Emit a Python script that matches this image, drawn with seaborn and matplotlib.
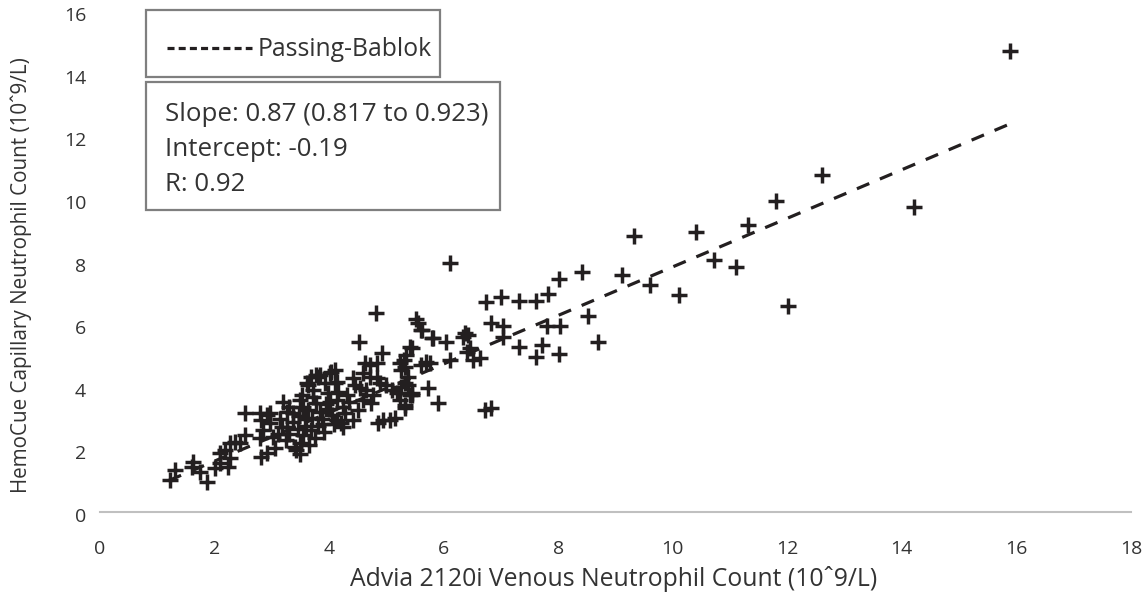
import matplotlib
matplotlib.use("Agg")
import matplotlib.pyplot as plt
from matplotlib.patches import Rectangle
from matplotlib.lines import Line2D
import seaborn as sns
import pandas as pd

# ---- data ----
venous = [
    1.22, 1.31, 1.60, 1.63, 1.75, 1.86, 2.01, 2.09, 2.24, 2.09, 2.18, 2.27, 2.36, 2.44, 2.53, 2.27,
    2.53, 2.79, 2.91, 2.82, 2.79, 2.82, 2.91, 3.05, 3.02, 2.97, 2.85, 2.97,
    3.20, 3.26, 3.17, 3.26, 3.37, 3.37, 3.49, 3.52, 3.64, 3.78, 3.84, 3.72, 3.78, 3.64, 3.70, 3.40,
    3.49, 3.43, 3.50, 3.10, 3.15, 3.30, 3.45, 3.55, 3.60, 3.68, 3.75, 3.80, 3.88, 3.92, 3.58, 3.48,
    3.30, 3.85, 3.95, 3.65, 3.25, 3.90, 3.55, 3.62, 3.69, 3.81, 3.93, 3.72, 3.98,
    4.01, 4.10, 4.04, 4.13, 4.01, 4.10, 4.16, 4.13, 4.31, 4.25, 4.13, 4.28, 4.42, 4.25, 4.42, 4.45,
    4.54, 4.65, 4.77, 4.60, 4.74, 4.62, 4.71, 4.60, 4.71, 4.83, 4.89, 5.00, 4.53, 4.92, 4.83, 4.82,
    4.94, 4.05, 4.08, 4.35, 4.50, 4.20, 4.00, 4.85,
    5.06, 5.15, 5.09, 5.18, 5.24, 5.24, 5.26, 5.41, 5.56, 5.61, 5.82, 5.70, 5.73, 5.90, 5.32, 5.41,
    5.38, 5.26, 5.44, 5.51, 5.63, 6.04, 5.61, 5.32, 5.32, 5.44, 5.32, 5.80, 5.76, 5.44, 5.35, 5.30,
    5.38,
    6.12, 6.34, 6.43, 6.40, 6.52, 6.63, 6.11, 6.72, 6.83, 6.74, 7.01, 6.82, 7.03, 7.04, 6.46, 6.37,
    7.32, 7.61, 7.82, 8.02, 8.42, 7.81, 8.03, 8.52, 7.32, 7.72, 7.62, 8.02, 8.70, 9.12, 9.32, 9.61,
    10.11, 10.41, 10.72, 11.11, 11.31, 11.81, 12.01, 12.60, 14.21, 15.89,
]
capillary = [
    1.12, 1.44, 1.54, 1.70, 1.38, 1.06, 1.49, 1.65, 1.54, 1.97, 2.08, 2.29, 2.34, 2.29, 2.56, 1.81,
    3.25, 3.25, 3.19, 3.04, 2.45, 1.86, 1.97, 2.13, 2.50, 2.93, 2.70, 3.25,
    3.62, 3.30, 2.82, 2.82, 3.25, 2.98, 3.67, 3.83, 4.15, 4.47, 4.47, 3.78, 3.57, 3.35, 3.10, 2.18,
    2.29, 2.08, 1.95, 2.60, 3.05, 2.60, 2.75, 2.55, 2.85, 2.70, 2.45, 2.85, 3.05, 2.65, 3.05, 3.15,
    3.45, 3.30, 3.55, 2.25, 2.40, 2.90, 3.45, 4.21, 4.42, 4.42, 4.21, 3.99, 3.89,
    4.53, 4.21, 4.58, 4.26, 3.62, 4.63, 3.94, 3.67, 3.83, 3.46, 3.04, 3.25, 3.04, 2.82, 4.37, 4.15,
    4.05, 3.99, 3.83, 3.67, 3.57, 4.85, 4.79, 4.53, 4.42, 4.37, 4.21, 4.15, 5.54, 5.16, 4.85, 6.44,
    3.04, 3.20, 2.90, 3.60, 3.35, 2.95, 3.40, 2.95,
    3.04, 3.09, 3.99, 3.89, 3.67, 4.85, 4.63, 5.38, 6.12, 5.91, 5.64, 4.90, 4.05, 3.57, 3.41, 3.83,
    4.15, 4.10, 5.32, 6.25, 5.91, 5.54, 4.79, 4.74, 4.21, 3.83, 3.51, 5.65, 4.86, 3.89, 5.10, 4.95,
    4.40,
    8.04, 5.70, 5.75, 5.22, 4.95, 5.00, 4.95, 3.35, 3.41, 6.81, 6.95, 6.14, 6.04, 5.70, 5.33, 5.82,
    6.84, 6.84, 7.06, 7.53, 7.75, 6.04, 6.04, 6.34, 5.36, 5.43, 5.06, 5.13, 5.54, 7.67, 8.91, 7.35,
    7.03, 9.05, 8.15, 7.93, 9.27, 10.04, 6.66, 10.86, 9.83, 14.83,
]
fit_x = [1.2, 15.9]
fit_y = [1.1, 12.5]

legend_label = "Passing-Bablok"
stats_lines = ["Slope: 0.87 (0.817 to 0.923)", "Intercept: -0.19", "R: 0.92"]
x_label = "Advia 2120i Venous Neutrophil Count (10ˆ9/L)"
y_label = "HemoCue Capillary Neutrophil Count (10ˆ9/L)"
x_ticks = [0, 2, 4, 6, 8, 10, 12, 14, 16, 18]
y_ticks = [0, 2, 4, 6, 8, 10, 12, 14, 16]

df = pd.DataFrame({"venous": venous, "capillary": capillary})
fit = pd.DataFrame({"x": fit_x, "y": fit_y})

# ---- style ----
sns.set_theme(style="white")
plt.rcParams["font.family"] = ["Open Sans", "DejaVu Sans"]
ink = "#231f20"
txt = "#333333"

fig = plt.figure(figsize=(11.48, 6.01), dpi=100)
ax = fig.add_axes([0.0871, 0.1431, 0.8980, 0.8336])

sns.scatterplot(data=df, x="venous", y="capillary", marker="+", s=140,
                color=ink, linewidth=2.5, ax=ax, zorder=3)
sns.lineplot(data=fit, x="x", y="y", color=ink, linewidth=2.3,
             linestyle=(0, (4.2, 3.6)), ax=ax, zorder=2)

ax.set_xlim(0, 18)
ax.set_ylim(0, 16)
ax.set_xticks(x_ticks)
ax.set_yticks(y_ticks)
ax.tick_params(axis="both", length=0, labelsize=14, colors=txt)
ax.tick_params(axis="x", pad=20)
ax.tick_params(axis="y", pad=10)
for side in ["top", "right", "left"]:
    ax.spines[side].set_visible(False)
ax.spines["bottom"].set_color("#c0c0c0")
ax.spines["bottom"].set_linewidth(1.5)
ax.spines["bottom"].set_position(("data", 0.1))
ax.set_xlabel(x_label, fontsize=17.8, color=txt)
ax.set_ylabel(y_label, fontsize=14.9, color=txt)
ax.xaxis.set_label_coords(0.4985, -0.102)
ax.yaxis.set_label_coords(-0.066, 0.478)

# ---- legend / stats boxes (figure coordinates) ----
W, H = 1148.0, 601.0
def fx(px):
    return px / W
def fy(py):
    return 1 - py / H

fig.patches.append(Rectangle((fx(146), fy(77)), fx(440) - fx(146), fy(10) - fy(77),
                             transform=fig.transFigure, fill=False,
                             edgecolor="#7f7f7f", linewidth=1.6, zorder=5))
fig.lines.append(Line2D([fx(167), fx(252)], [fy(48), fy(48)], transform=fig.transFigure,
                        color=ink, linewidth=2.3, linestyle=(0, (2.2, 1.3))))
fig.text(fx(258), fy(49), legend_label, fontsize=17.8, color=txt, va="center", ha="left")

fig.patches.append(Rectangle((fx(146), fy(210)), fx(500) - fx(146), fy(82) - fy(210),
                             transform=fig.transFigure, fill=False,
                             edgecolor="#7f7f7f", linewidth=1.6, zorder=5))
for i, line in enumerate(stats_lines):
    fig.text(fx(165), fy(114 + 35.5 * i), line, fontsize=18.6, color=txt,
             va="center", ha="left")

fig.savefig("out.png", dpi=100)
